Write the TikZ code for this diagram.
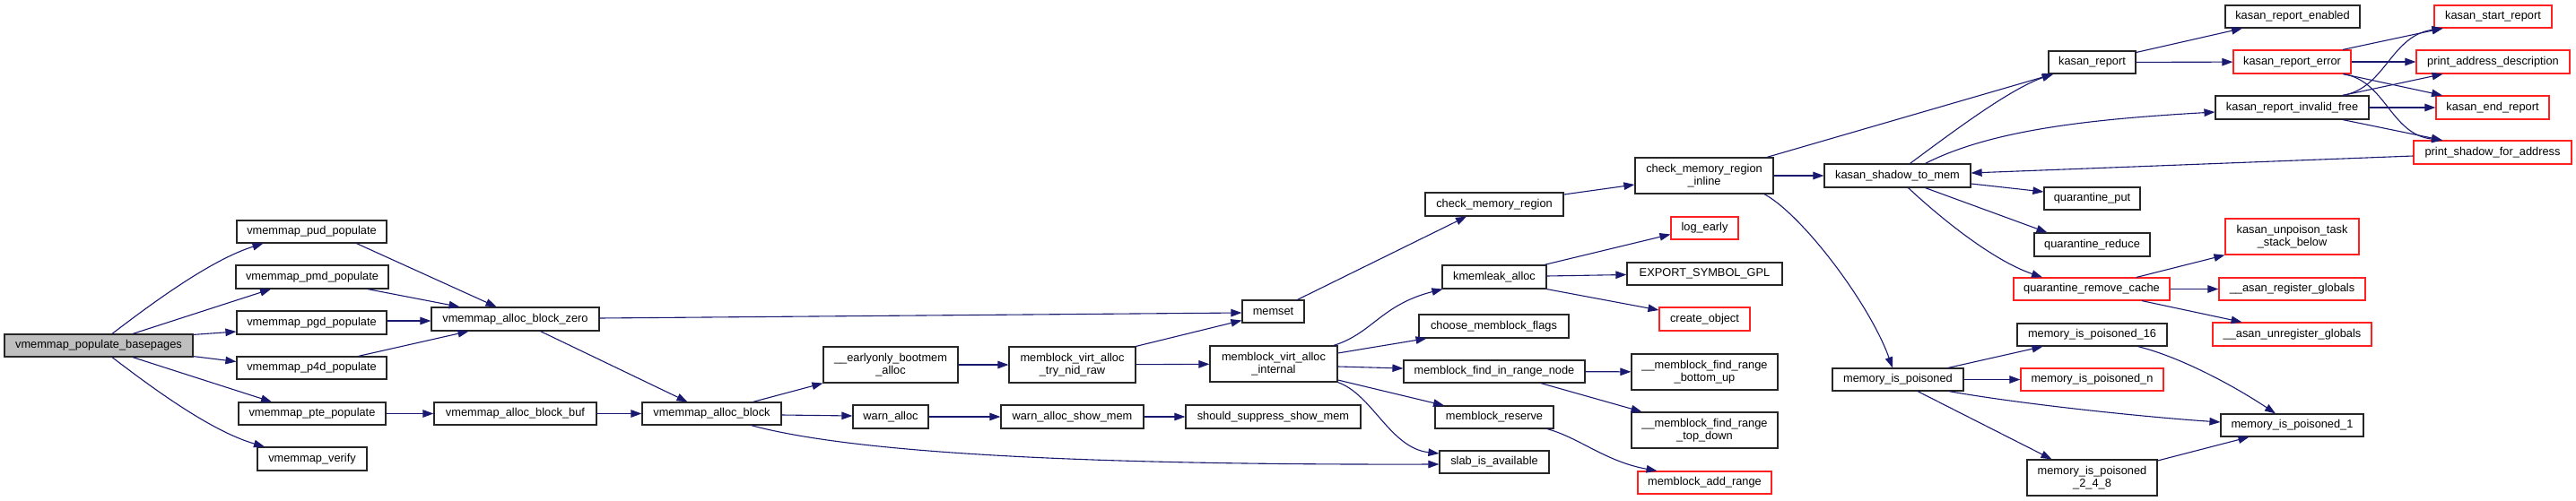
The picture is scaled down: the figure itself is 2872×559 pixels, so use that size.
\documentclass[tikz,border=0pt]{standalone}
\usepackage{fontspec}
\setmainfont{Liberation Sans}
\usetikzlibrary{arrows.meta}
\definecolor{edgec}{HTML}{191970}
\definecolor{trunc}{HTML}{FF2020}
\definecolor{bpfill}{HTML}{BFBFBF}
\begin{document}
\begin{tikzpicture}[x=1pt,y=-1pt,
  nb/.style={draw=black!85, line width=1.2pt, rectangle, inner sep=0pt, align=center,
    font=\fontsize{12.8}{14}\selectfont, fill=white},
  nr/.style={nb, draw=trunc},
  sz/.style 2 args={minimum width=#1pt, minimum height=#2pt},
  e/.style={draw=edgec, line width=1.1pt, -{Triangle[length=12pt,width=8.5pt]}},
]
\useasboundingbox (0,0) rectangle (2872,559);
% nodes
\node[nb,fill=bpfill,sz={210}{25}] (bp) at (110,385.5) {vmemmap\_populate\_basepages};
\node[nb,sz={167}{25}] (pud) at (347.5,258.5) {vmemmap\_pud\_populate};
\node[nb,sz={170}{26}] (pmd) at (348,309) {vmemmap\_pmd\_populate};
\node[nb,sz={167}{26}] (pgd) at (347.5,360) {vmemmap\_pgd\_populate};
\node[nb,sz={167}{25}] (p4d) at (347.5,410.5) {vmemmap\_p4d\_populate};
\node[nb,sz={164}{25}] (pte) at (348,461.5) {vmemmap\_pte\_populate};
\node[nb,sz={122}{26}] (verify) at (348,512) {vmemmap\_verify};
\node[nb,sz={187}{26}] (zero) at (574.5,356) {vmemmap\_alloc\_block\_zero};
\node[nb,sz={181}{25}] (buf) at (574.5,461.5) {vmemmap\_alloc\_block\_buf};
\node[nb,sz={155}{25}] (block) at (793.5,461.5) {vmemmap\_alloc\_block};
\node[nb,sz={150}{40}] (early) at (993,407) {\_\_earlyonly\_bootmem\\\_alloc};
\node[nb,sz={141}{40}] (trynid) at (1195.5,407) {memblock\_virt\_alloc\\\_try\_nid\_raw};
\node[nb,sz={84}{26}] (warn) at (993,465) {warn\_alloc};
\node[nb,sz={159}{26}] (showmem) at (1195.5,465) {warn\_alloc\_show\_mem};
\node[nb,sz={195}{26}] (suppress) at (1419.5,465) {should\_suppress\_show\_mem};
\node[nb,sz={69}{25}] (memset) at (1419.5,347.5) {memset};
\node[nb,sz={142}{40}] (internal) at (1420,406) {memblock\_virt\_alloc\\\_internal};
\node[nb,sz={154}{26}] (cmr) at (1666,228) {check\_memory\_region};
\node[nb,sz={116}{26}] (kmemleak) at (1666,309) {kmemleak\_alloc};
\node[nb,sz={167}{26}] (choose) at (1665.5,364) {choose\_memblock\_flags};
\node[nb,sz={202}{25}] (find) at (1666,414.5) {memblock\_find\_in\_range\_node};
\node[nb,sz={132}{25}] (reserve) at (1666,465.5) {memblock\_reserve};
\node[nb,sz={122}{25}] (slab) at (1666,515.5) {slab\_is\_available};
\node[nb,sz={154}{40}] (inline) at (1900,196) {check\_memory\_region\\\_inline};
\node[nr,sz={75}{25}] (logearly) at (1900.5,254.5) {log\_early};
\node[nb,sz={173}{25}] (export) at (1900.5,305.5) {EXPORT\_SYMBOL\_GPL};
\node[nr,sz={101}{26}] (create) at (1900.5,356) {create\_object};
\node[nb,sz={163}{40}] (bottomup) at (1900.5,415) {\_\_memblock\_find\_range\\\_bottom\_up};
\node[nb,sz={163}{40}] (topdown) at (1900.5,480) {\_\_memblock\_find\_range\\\_top\_down};
\node[nr,sz={149}{25}] (addrange) at (1900.5,538.5) {memblock\_add\_range};
\node[nb,sz={163}{26}] (shadow) at (2115.5,196) {kasan\_shadow\_to\_mem};
\node[nb,sz={146}{25}] (mip) at (2116,423.5) {memory\_is\_poisoned};
\node[nb,sz={97}{25}] (kreport) at (2332.5,69.5) {kasan\_report};
\node[nb,sz={107}{25}] (qput) at (2332.5,221.5) {quarantine\_put};
\node[nb,sz={129}{26}] (qreduce) at (2332.5,273) {quarantine\_reduce};
\node[nr,sz={174}{25}] (qremove) at (2332,322.5) {quarantine\_remove\_cache};
\node[nb,sz={167}{25}] (mipsixteen) at (2332.5,373.5) {memory\_is\_poisoned\_16};
\node[nr,sz={159}{25}] (mipn) at (2332.5,423.5) {memory\_is\_poisoned\_n};
\node[nb,sz={145}{40}] (mipmulti) at (2332.5,533) {memory\_is\_poisoned\\\_2\_4\_8};
\node[nb,sz={150}{25}] (kenabled) at (2556,18.5) {kasan\_report\_enabled};
\node[nr,sz={131}{26}] (kerror) at (2555.5,69) {kasan\_report\_error};
\node[nb,sz={171}{26}] (kinvalid) at (2555.5,120) {kasan\_report\_invalid\_free};
\node[nr,sz={149}{40}] (unpoison) at (2555.5,264) {kasan\_unpoison\_task\\\_stack\_below};
\node[nr,sz={163}{25}] (asanreg) at (2555.5,322.5) {\_\_asan\_register\_globals};
\node[nr,sz={177}{26}] (asanunreg) at (2555.5,373) {\_\_asan\_unregister\_globals};
\node[nb,sz={159}{25}] (mipone) at (2555.5,474.5) {memory\_is\_poisoned\_1};
\node[nr,sz={131}{25}] (kstart) at (2779.5,18.5) {kasan\_start\_report};
\node[nr,sz={171}{26}] (paddr) at (2779.5,69) {print\_address\_description};
\node[nr,sz={126}{26}] (kend) at (2779,120) {kasan\_end\_report};
\node[nr,sz={176}{26}] (pshadow) at (2779,170) {print\_shadow\_for\_address};
% edges
\draw[e] ([xshift=15pt]bp.north) .. controls (170,338) and (235,290) .. ([xshift=-54pt]pud.south);
\draw[e] ([xshift=38pt]bp.north) -- ([xshift=-46pt]pmd.south);
\draw[e] ([yshift=-1pt]bp.north east) -- ([yshift=-10pt]pgd.west);
\draw[e] ([yshift=1pt]bp.south east) -- ([yshift=7pt]p4d.west);
\draw[e] ([xshift=38pt]bp.south) -- ([xshift=-45pt]pte.north);
\draw[e] ([xshift=15pt]bp.south) .. controls (170,433) and (235,481) .. ([xshift=-53pt]verify.north);
\draw[e] ([xshift=50pt]pud.south) -- ([xshift=-21pt]zero.north);
\draw[e] ([xshift=62pt]pmd.south) -- ([xshift=-62pt]zero.north);
\draw[e] ([yshift=2pt]pgd.east) -- ([yshift=-2pt]zero.west);
\draw[e] ([xshift=52pt]p4d.north) -- ([xshift=-52pt]zero.south);
\draw[e] (pte) -- (buf);
\draw[e] ([yshift=1pt]zero.east) -- ([yshift=-1.5pt]memset.west);
\draw[e] ([xshift=28pt]zero.south) -- ([xshift=-27pt]block.north);
\draw[e] (buf) -- (block);
\draw[e] ([xshift=46pt]block.north) -- (early.south west);
\draw[e] ([yshift=-1.5pt]block.east) -- ([yshift=1pt]warn.west);
\draw[e] ([xshift=44pt]block.south) .. controls (950,505) and (1200,519) .. ([yshift=-2.5pt]slab.west);
\draw[e] (early) -- (trynid);
\draw[e] (trynid.north east) -- ([yshift=-10pt]memset.west);
\draw[e] (trynid) -- (internal);
\draw[e] (warn) -- (showmem);
\draw[e] (showmem) -- (suppress);
\draw[e] ([xshift=27pt]memset.north) -- ([xshift=-31pt]cmr.south);
\draw[e] ([xshift=67pt]internal.north) .. controls (1530,372) and (1540,340) .. ([xshift=1pt]kmemleak.south west);
\draw[e] ([yshift=12pt]internal.east) -- ([xshift=-75pt]choose.south);
\draw[e] ([yshift=-3pt]internal.east) -- ([yshift=3.5pt]find.west);
\draw[e] ([yshift=-18pt]internal.east) -- ([xshift=-56pt]reserve.north);
\draw[e] (internal.south east) .. controls (1530,440) and (1550,500) .. ([yshift=9.5pt]slab.west);
\draw[e] ([yshift=11pt]cmr.east) -- ([yshift=-10pt]inline.west);
\draw[e] ([xshift=56pt]kmemleak.north) -- ([yshift=-7pt]logearly.west);
\draw[e] ([yshift=1pt]kmemleak.east) -- ([yshift=-1pt]export.west);
\draw[e] (kmemleak.south east) -- ([yshift=10pt]create.west);
\draw[e] (find) -- (bottomup);
\draw[e] ([xshift=52pt]find.south) -- ([xshift=-70pt]topdown.north);
\draw[e] ([xshift=59pt]reserve.south) .. controls (1760,488) and (1790,515) .. ([xshift=-53pt]addrange.north);
\draw[e] ([xshift=70pt]inline.north) -- ([xshift=-43pt]kreport.south);
\draw[e] (inline) -- (shadow);
\draw[e] ([xshift=67pt]inline.south) .. controls (2010,240) and (2085,340) .. ([xshift=-6pt]mip.north);
\draw[e] ([xshift=14pt]shadow.north) .. controls (2180,145) and (2240,100) .. ([xshift=-44pt]kreport.south);
\draw[e] ([xshift=31pt]shadow.north) .. controls (2220,145) and (2330,133) .. ([yshift=-5pt]kinvalid.west);
\draw[e] ([yshift=-9pt]shadow.east) -- ([yshift=7.5pt]qput.west);
\draw[e] ([xshift=31pt]shadow.south) -- ([xshift=-50pt]qreduce.north);
\draw[e] ([xshift=12pt]shadow.south) .. controls (2160,240) and (2220,290) .. ([xshift=-55pt]qremove.north);
\draw[e] ([yshift=-4pt]pshadow.west) -- ([yshift=3pt]shadow.east);
\draw[e] ([yshift=11pt]kreport.east) -- ([xshift=-56pt]kenabled.south);
\draw[e] (kreport) -- (kerror);
\draw[e] ([xshift=56.5pt]kerror.north) -- ([xshift=-56pt]kstart.south);
\draw[e] (kerror) -- (paddr);
\draw[e] ([xshift=57pt]kerror.south) -- ([xshift=-56pt]kend.north);
\draw[e] ([xshift=57pt]kerror.south) .. controls (2660,90) and (2665,150) .. ([xshift=-56pt]pshadow.north);
\draw[e] ([xshift=56.5pt]kinvalid.north) .. controls (2660,98) and (2665,40) .. ([xshift=-56pt]kstart.south);
\draw[e] ([xshift=56.5pt]kinvalid.north) -- ([xshift=-56pt]paddr.south);
\draw[e] (kinvalid) -- (kend);
\draw[e] ([xshift=56.5pt]kinvalid.south) -- ([xshift=-56pt]pshadow.north);
\draw[e] ([xshift=50pt]qremove.north) -- (unpoison.south west);
\draw[e] (qremove) -- (asanreg);
\draw[e] ([xshift=56pt]qremove.south) -- ([xshift=-56pt]asanunreg.north);
\draw[e] ([xshift=56pt]mip.north) -- ([xshift=-55pt]mipsixteen.south);
\draw[e] (mip) -- (mipn);
\draw[e] ([xshift=57pt]mip.south) .. controls (2260,452) and (2400,466) .. ([yshift=3.5pt]mipone.west);
\draw[e] ([xshift=22pt]mip.south) -- ([xshift=-45pt]mipmulti.north);
\draw[e] ([xshift=51pt]mipsixteen.south) .. controls (2430,398) and (2490,430) .. ([xshift=-18.5pt]mipone.north);
\draw[e] ([yshift=19pt]mipmulti.east) -- ([xshift=-48pt]mipone.south);
\end{tikzpicture}
\end{document}
